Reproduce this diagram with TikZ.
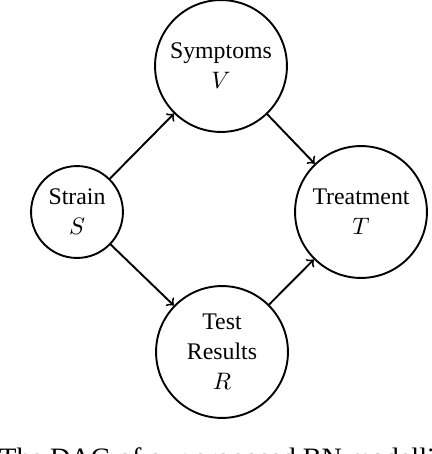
\documentclass[tikz,border=0pt]{standalone}
\usepackage{fontspec}
\setmainfont{Liberation Serif}
\begin{document}
\begin{tikzpicture}[x=0.42pt,y=-0.42pt,
  var/.style={circle, draw, line width=0.8pt, align=center, inner sep=0pt, minimum size=55.4pt, font=\fontsize{10}{12.6}\selectfont},
  smallvar/.style={var, minimum size=38.6pt},
  edge/.style={->, >=to, line width=0.8pt}]
\useasboundingbox (0,0) rectangle (432,454);
\clip (0,0) rectangle (432,454);
\node[var] (V) at (221,66) {Symptoms\\$V$};
\node[smallvar] (S) at (77,212) {Strain\\$S$};
\node[var] (T) at (361,212) {Treatment\\$T$};
\node[var] (R) at (222,352) {Test\\Results\\$R$};
\draw[edge] (S) -- (V);
\draw[edge] (V) -- (T);
\draw[edge] (S) -- (R);
\draw[edge] (R) -- (T);
\node[anchor=base west, inner sep=0pt, font=\fontsize{11.8}{14}\selectfont] (cap) at (-1,467) {The DAG of our proposed BN modelling};
\end{tikzpicture}
\end{document}
